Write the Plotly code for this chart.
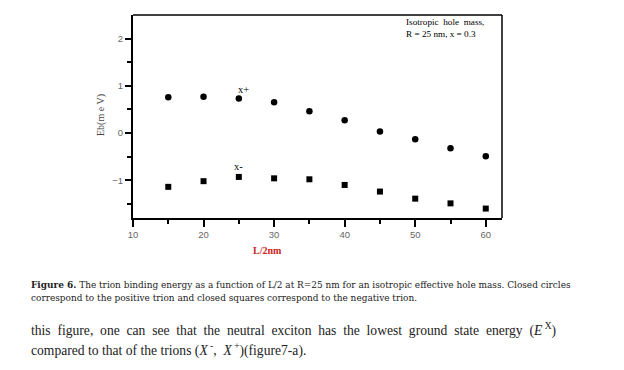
import plotly.graph_objects as go

half_length = [15, 20, 25, 30, 35, 40, 45, 50, 55, 60]
eb_x_plus = [0.76, 0.77, 0.73, 0.65, 0.46, 0.27, 0.03, -0.13, -0.32, -0.49]
eb_x_minus = [-1.14, -1.02, -0.93, -0.96, -0.98, -1.10, -1.24, -1.39, -1.49, -1.60]
x_ticks = [10, 20, 30, 40, 50, 60]
y_ticks = [-1, 0, 1, 2]

W, H = 624, 370
OFF = 8  # browser body margin
L, R, T, B = 133, 502, 15, 218  # plot area in page pixels

def py(p):
    return (B - p) / (B - T)

def px(p):
    return (p - L) / (R - L)

fig = go.Figure()
fig.add_trace(go.Scatter(x=half_length, y=eb_x_plus, mode="markers",
                         marker=dict(symbol="circle", size=6.5, color="black"),
                         name="X+", showlegend=False))
fig.add_trace(go.Scatter(x=half_length, y=eb_x_minus, mode="markers",
                         marker=dict(symbol="square", size=6, color="black"),
                         name="X-", showlegend=False))

tickfont = dict(family="Liberation Sans, Arial", size=9.5, color="#666666")
fig.update_xaxes(range=[10, 62.3], tickvals=x_ticks, ticks="outside", ticklen=7,
                 tickwidth=2, tickcolor="black", showline=True, linewidth=2,
                 linecolor="black", showgrid=False, zeroline=False, tickfont=tickfont,
                 minor=dict(tickvals=[15, 25, 35, 45, 55], ticks="outside", ticklen=4,
                            tickwidth=2, tickcolor="black"))
fig.update_yaxes(range=[-1.8, 2.5], tickvals=y_ticks, ticks="outside", ticklen=6,
                 tickwidth=2, tickcolor="black", showline=True, linewidth=2,
                 linecolor="black", showgrid=False, zeroline=False, tickfont=tickfont,
                 minor=dict(tickvals=[-1.5, -0.5, 0.5, 1.5], ticks="outside", ticklen=4,
                            tickwidth=2, tickcolor="black"))

fig.add_shape(type="line", xref="paper", yref="paper", x0=0, x1=1, y0=1, y1=1,
              line=dict(color="black", width=1.5))
fig.add_shape(type="line", xref="paper", yref="paper", x0=1, x1=1, y0=0, y1=1,
              line=dict(color="black", width=1.5))

serif = "Liberation Serif, Times New Roman, serif"
dserif = "DejaVu Serif, serif"
ann = []
ann.append(dict(text="Isotropic  hole  mass,<br>R = 25 nm, x = 0.3", xref="paper", yref="paper",
                x=px(404), y=py(15), xanchor="left", yanchor="top", align="left",
                showarrow=False, font=dict(family=serif, size=9.2, color="black")))
ann.append(dict(text="x+", xref="paper", yref="paper", x=px(236), y=py(89), xanchor="left",
                yanchor="middle", showarrow=False, font=dict(family=serif, size=10.5, color="black")))
ann.append(dict(text="x-", xref="paper", yref="paper", x=px(232), y=py(166), xanchor="left",
                yanchor="middle", showarrow=False, font=dict(family=serif, size=10.5, color="black")))
ann.append(dict(text="Eb(m e V)", xref="paper", yref="paper", x=px(101), y=py(115),
                xanchor="center", yanchor="middle", textangle=-90, showarrow=False,
                font=dict(family=serif, size=10, color="#444444")))
ann.append(dict(text="<b>L/2nm</b>", xref="paper", yref="paper", x=px(267), y=py(250),
                xanchor="center", yanchor="middle", showarrow=False,
                font=dict(family=serif, size=10, color="#cc2222")))
cap1 = "<b>Figure 6.</b> The trion binding energy as a function of L/2 at R=25 nm for an isotropic effective hole mass. Closed circles"
cap2 = "correspond to the positive trion and closed squares correspond to the negative trion."
ann.append(dict(text=cap1, xref="paper", yref="paper", x=px(29), y=py(285), xanchor="left",
                yanchor="middle", showarrow=False, font=dict(family=dserif, size=8.95, color="#222222")))
ann.append(dict(text=cap2, xref="paper", yref="paper", x=px(29), y=py(297.5), xanchor="left",
                yanchor="middle", showarrow=False, font=dict(family=dserif, size=8.95, color="#222222")))
body1 = "this  figure,  one  can  see  that  the  neutral  exciton  has  the  lowest  ground  state  energy  (<i>E</i><sup> X</sup>)"
body2 = "compared to that of the trions (<i>X</i><sup> -</sup>,  <i>X</i><sup> +</sup>)(figure7-a)."
ann.append(dict(text=body1, xref="paper", yref="paper", x=px(29), y=py(330), xanchor="left",
                yanchor="middle", showarrow=False, font=dict(family=serif, size=13.6, color="#222222")))
ann.append(dict(text=body2, xref="paper", yref="paper", x=px(29), y=py(350), xanchor="left",
                yanchor="middle", showarrow=False, font=dict(family=serif, size=13.6, color="#222222")))

fig.update_layout(width=W, height=H,
                  margin=dict(l=L - OFF, r=W - (R - OFF), t=T - OFF, b=H - (B - OFF)),
                  plot_bgcolor="white", paper_bgcolor="white", annotations=ann,
                  showlegend=False)
fig.write_html("out.html")
